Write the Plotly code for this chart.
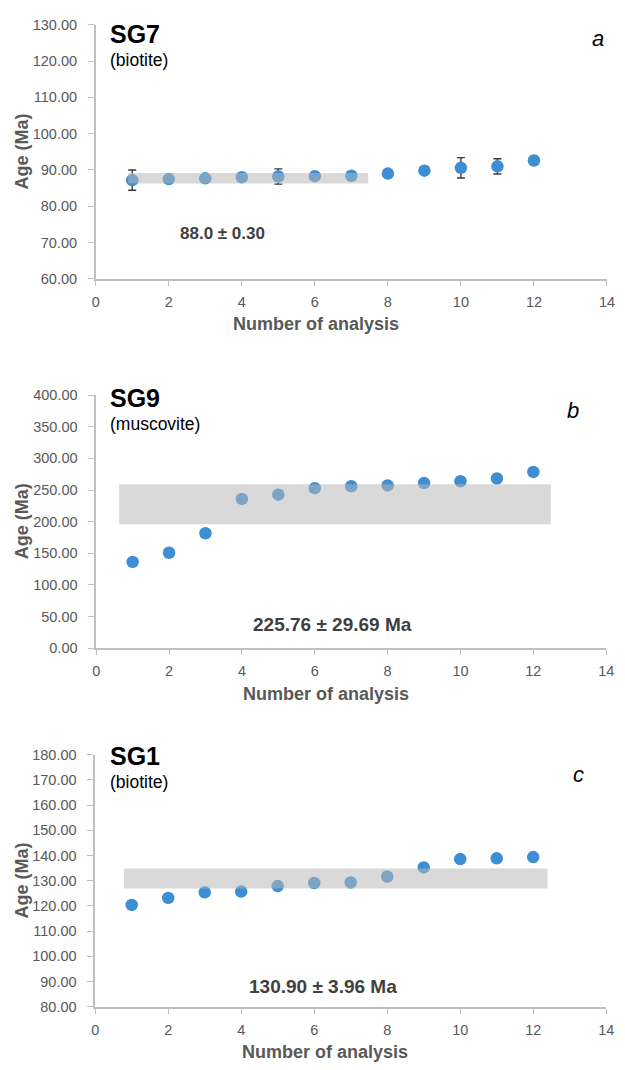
import plotly.graph_objects as go

W, H = 625, 1070

# ---------------- data ----------------
analysis = [1, 2, 3, 4, 5, 6, 7, 8, 9, 10, 11, 12]

sg7_age = [87.2, 87.5, 87.7, 88.0, 88.2, 88.3, 88.4, 89.0, 89.8, 90.6, 91.0, 92.6]
sg7_err_x = [1, 5, 10, 11, 12]
sg7_err = [2.8, 2.1, 2.8, 2.1, 1.1]
sg7_err_age = [87.2, 88.2, 90.6, 91.0, 92.6]
sg7_band = [86.3, 89.2]
sg7_band_x = [0.89, 7.46]

sg9_age = [136.4, 151.0, 181.7, 236.0, 242.7, 253.0, 256.0, 257.3, 261.0, 264.0, 268.2, 278.6]
sg9_band = [196.1, 259.0]
sg9_band_x = [0.63, 12.48]

sg1_age = [120.4, 123.2, 125.4, 125.7, 127.9, 129.1, 129.3, 131.7, 135.3, 138.6, 138.9, 139.4]
sg1_band = [126.9, 134.9]
sg1_band_x = [0.79, 12.39]

panels = [
    dict(name="SG7", mineral="(biotite)", letter="a", age=sg7_age, band=sg7_band, band_x=sg7_band_x,
         yrange=[60, 130], dtick=10, stat="88.0 ± 0.30", stat_xy=(3.47, 72.4), stat_size=17,
         xpx=(93.5, 614.8), ypx=(17, 275), title_x=6.02,
         name_y=26, min_y=53, letter_xy=(606, 31)),
    dict(name="SG9", mineral="(muscovite)", letter="b", age=sg9_age, band=sg9_band, band_x=sg9_band_x,
         yrange=[0, 400], dtick=50, stat="225.76 ± 29.69 Ma", stat_xy=(6.5, 38.0), stat_size=19,
         xpx=(94.0, 614.0), ypx=(393, 650), title_x=6.3,
         name_y=396, min_y=422, letter_xy=(580, 409)),
    dict(name="SG1", mineral="(biotite)", letter="c", age=sg1_age, band=sg1_band, band_x=sg1_band_x,
         yrange=[80, 180], dtick=10, stat="130.90 ± 3.96 Ma", stat_xy=(6.23, 88.1), stat_size=19,
         xpx=(93.0, 614.0), ypx=(758, 1014), title_x=6.3,
         name_y=759, min_y=786, letter_xy=(586, 778)),
]

BLUE = "#3d8ed3"
GRAY_TXT = "#595959"
AXIS_COL = "#bfbfbf"
FONT = "Liberation Sans, Arial, sans-serif"

fig = go.Figure()
layout = dict(width=W, height=H, margin=dict(l=0, r=0, t=0, b=0),
              plot_bgcolor="white", paper_bgcolor="white", showlegend=False,
              font=dict(family=FONT, color=GRAY_TXT))
annotations = []
shapes = []

for i, p in enumerate(panels):
    n = "" if i == 0 else str(i + 1)
    xa, ya = "x" + n, "y" + n
    xkey, ykey = "xaxis" + n, "yaxis" + n
    x0, x1 = p["xpx"]
    y0, y1 = p["ypx"]
    layout[xkey] = dict(domain=[x0 / W, x1 / W], anchor=ya, range=[0, 14], dtick=2,
                        showline=True, linecolor=AXIS_COL, linewidth=1.5,
                        ticks="outside", ticklen=5, tickcolor=AXIS_COL, tickwidth=1.2,
                        showgrid=False, zeroline=False,
                        tickfont=dict(size=14.5, color=GRAY_TXT), ticklabelstandoff=4)
    layout[ykey] = dict(domain=[1 - y1 / H, 1 - y0 / H], anchor=xa, range=p["yrange"], dtick=p["dtick"],
                        tickformat=".2f", showline=True, linecolor=AXIS_COL, linewidth=1.5,
                        ticks="outside", ticklen=6, tickcolor=AXIS_COL, tickwidth=1.2,
                        showgrid=False, zeroline=False,
                        tickfont=dict(size=14.5, color=GRAY_TXT), ticklabelstandoff=8)

    if i == 0:
        fig.add_trace(go.Scatter(x=sg7_err_x, y=sg7_err_age, mode="markers", xaxis=xa, yaxis=ya,
                                 marker=dict(size=1, color="rgba(0,0,0,0)"),
                                 error_y=dict(type="data", array=sg7_err, visible=True,
                                              color="#3a3a3a", thickness=1.4, width=4)))
    fig.add_trace(go.Scatter(x=analysis, y=p["age"], mode="markers", xaxis=xa, yaxis=ya,
                             marker=dict(size=12.5, color=BLUE)))

    shapes.append(dict(type="rect", xref=xa, yref=ya, x0=p["band_x"][0], x1=p["band_x"][1],
                       y0=p["band"][0], y1=p["band"][1], layer="above", line=dict(width=0),
                       fillcolor="rgba(183,183,183,0.53)"))

    # stats text
    annotations.append(dict(xref=xa, yref=ya, x=p["stat_xy"][0], y=p["stat_xy"][1], text="<b>" + p["stat"] + "</b>",
                            showarrow=False, font=dict(size=p["stat_size"], color="#404040", family=FONT)))
    # sample name
    annotations.append(dict(xref="paper", yref="paper", x=106 / W, y=1 - p["name_y"] / H, xanchor="left",
                            yanchor="middle", text="<b>" + p["name"] + "</b>", showarrow=False,
                            font=dict(size=25, color="black", family=FONT)))
    annotations.append(dict(xref="paper", yref="paper", x=106 / W, y=1 - p["min_y"] / H, xanchor="left",
                            yanchor="middle", text=p["mineral"], showarrow=False,
                            font=dict(size=17.5, color="black", family=FONT)))
    annotations.append(dict(xref="paper", yref="paper", x=p["letter_xy"][0] / W, y=1 - p["letter_xy"][1] / H,
                            xanchor="center", yanchor="middle", text="<i>" + p["letter"] + "</i>", showarrow=False,
                            font=dict(size=22, color="black", family=FONT)))
    # axis titles
    annotations.append(dict(xref=xa, yref="paper", x=p["title_x"], y=1 - (y1 + 46) / H,
                            xanchor="center", yanchor="middle", text="<b>Number of analysis</b>", showarrow=False,
                            font=dict(size=18, color=GRAY_TXT, family=FONT)))
    annotations.append(dict(xref="paper", yref="paper", x=18 / W, y=1 - (y0 + y1) / 2 / H,
                            xanchor="center", yanchor="middle", textangle=-90, text="<b>Age (Ma)</b>",
                            showarrow=False, font=dict(size=18, color=GRAY_TXT, family=FONT)))

layout["annotations"] = annotations
layout["shapes"] = shapes
fig.update_layout(**layout)
fig.write_html("out.html", config={"displayModeBar": False},
               post_script="document.body.style.margin='0';document.body.style.overflow='hidden';")
